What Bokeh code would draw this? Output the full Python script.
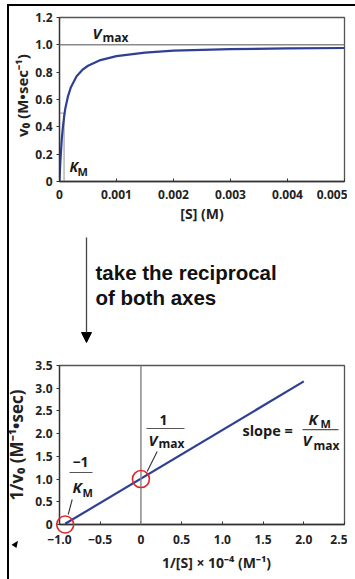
from bokeh.plotting import figure
from bokeh.layouts import column
from bokeh.models import Range1d, FixedTicker, Label, Arrow, NormalHead, Span, Div
from bokeh.embed import file_html
from bokeh.resources import INLINE

# ---------------- data ----------------
# Michaelis-Menten plot
s_conc = [0, 0.00001, 0.00002, 0.00004, 0.00006, 0.00008, 0.0001, 0.00015, 0.0002,
          0.0003, 0.0004, 0.0005, 0.0007, 0.001, 0.0015, 0.002, 0.003, 0.004, 0.005]
v0 = [0, 0.10, 0.18, 0.31, 0.40, 0.47, 0.53, 0.625, 0.69,
      0.77, 0.816, 0.847, 0.886, 0.917, 0.943, 0.957, 0.968, 0.974, 0.977]
vmax = 1.0
km = 0.00008
half_v = 0.5
top_xticks = [0, 0.001, 0.002, 0.003, 0.004, 0.005]
top_xlabels = ["0", "0.001", "0.002", "0.003", "0.004", "0.005"]
top_yticks = [0, 0.2, 0.4, 0.6, 0.8, 1.0, 1.2]
top_ylabels = ["0", "0.2", "0.4", "0.6", "0.8", "1.0", "1.2"]

# Lineweaver-Burk plot
inv_s = [-0.93, 2.0]
inv_v = [0.015, 3.15]
intercept_x = [-0.93, 0.0]
intercept_y = [0.0, 1.0]
bot_xticks = [-1.0, -0.5, 0, 0.5, 1.0, 1.5, 2.0, 2.5]
bot_xlabels = ["\u22121.0", "\u22120.5", "0", "0.5", "1.0", "1.5", "2.0", "2.5"]
bot_yticks = [0, 0.5, 1.0, 1.5, 2.0, 2.5, 3.0, 3.5]
bot_ylabels = ["0", "0.5", "1.0", "1.5", "2.0", "2.5", "3.0", "3.5"]

FONT = "Open Sans"
BLUE = "#2e3f94"
RED = "#e0262b"
GRAY = "#8a8a8a"
DARK = "#333333"
NB = "\u00a0"


def style_axes(p, xt, xl, yt, yl):
    p.xgrid.visible = False
    p.ygrid.visible = False
    p.outline_line_color = "#555555"
    p.outline_line_width = 1.3
    p.xaxis.ticker = FixedTicker(ticks=xt)
    p.yaxis.ticker = FixedTicker(ticks=yt)
    p.xaxis.major_label_overrides = {t: l for t, l in zip(xt, xl)}
    p.yaxis.major_label_overrides = {t: l for t, l in zip(yt, yl)}
    p.xaxis.major_tick_in = 3
    p.xaxis.major_tick_out = 0
    p.yaxis.major_tick_in = 0
    p.yaxis.major_tick_out = 3
    for ax in (p.xaxis, p.yaxis):
        ax.axis_line_color = DARK
        ax.axis_line_width = 1.3
        ax.major_tick_line_color = DARK
        ax.minor_tick_line_color = None
        ax.major_label_text_font = FONT
        ax.major_label_text_font_style = "bold"
        ax.major_label_text_font_size = "12px"
        ax.major_label_text_color = "#222222"
        ax.axis_label_text_font = FONT
        ax.axis_label_text_font_style = "bold"
        ax.axis_label_text_color = "#222222"


def lab(p, x, y, text, size, italic=False, align="left"):
    p.add_layout(Label(x=x, y=y, text=text, text_font=FONT,
                       text_font_style="bold italic" if italic else "bold",
                       text_font_size=size, text_color="#1a1a1a",
                       text_align=align, text_baseline="middle"))


# ---------------- top figure ----------------
top = figure(width=347, height=231, x_range=Range1d(0, 0.005), y_range=Range1d(0, 1.2),
             output_backend="svg", toolbar_location=None,
             min_border_left=59, min_border_right=3, min_border_top=17, min_border_bottom=50)
style_axes(top, top_xticks, top_xlabels, top_yticks, top_ylabels)
top.xaxis.axis_label = "[S] (M)"
top.xaxis.axis_label_text_font_size = "14px"
top.xaxis.major_label_standoff = 8
top.xaxis.axis_label_standoff = 2
top.yaxis.axis_label = NB * 2 + "v\u2080 (M\u2022sec\u207b\u00b9)"
top.yaxis.axis_label_text_font_size = "15px"
top.yaxis.major_label_standoff = 4
top.yaxis.axis_label_standoff = 0

top.add_layout(Span(location=vmax, dimension="width", line_color=GRAY, line_width=1.5))
top.line([km, km], [0, half_v], line_color="#aaaaaa", line_width=1.3)
top.line([0, km], [half_v, half_v], line_color="#aaaaaa", line_width=1.3)
top.line(s_conc, v0, line_color=BLUE, line_width=2.2)

lab(top, 0.000579, 1.083, "V", "15px", italic=True)
lab(top, 0.000754, 1.054, "max", "12px")
lab(top, 0.000175, 0.11, "K", "14px", italic=True)
lab(top, 0.000316, 0.073, "M", "11px")

# ---------------- middle (arrow + text) ----------------
mid = figure(width=347, height=126, x_range=Range1d(59, 344), y_range=Range1d(357, 231),
             output_backend="svg", toolbar_location=None,
             x_axis_location=None, y_axis_location=None,
             min_border_left=59, min_border_right=3, min_border_top=0, min_border_bottom=0)
mid.grid.visible = False
mid.outline_line_color = None
mid.add_layout(Arrow(x_start=86, y_start=237, x_end=86, y_end=342,
                     line_color="#444444", line_width=1.3,
                     end=NormalHead(size=10, fill_color="black", line_color="black")))
for txt, yy in (("take the reciprocal", 272), ("of both axes", 297)):
    mid.add_layout(Label(x=95, y=yy, text=txt, text_font="Liberation Sans",
                         text_font_style="bold", text_font_size="20.5px",
                         text_color="#111111", text_baseline="middle"))

# ---------------- bottom figure ----------------
bot = figure(width=347, height=220, x_range=Range1d(-1.0, 2.5), y_range=Range1d(0, 3.5),
             output_backend="svg", toolbar_location=None,
             min_border_left=59, min_border_right=3, min_border_top=8, min_border_bottom=53)
style_axes(bot, bot_xticks, bot_xlabels, bot_yticks, bot_ylabels)
bot.xaxis.axis_label = NB * 8 + "1/[S] \u00d7 10\u207b\u2074 (M\u207b\u00b9)"
bot.xaxis.axis_label_text_font_size = "14px"
bot.xaxis.major_label_standoff = 10
bot.xaxis.axis_label_standoff = 6
bot.yaxis.axis_label = "1/v\u2080 (M\u207b\u00b9\u2022sec)"
bot.yaxis.axis_label_text_font_size = "17px"
bot.yaxis.major_label_standoff = 4
bot.yaxis.axis_label_standoff = 4

bot.add_layout(Span(location=0, dimension="height", line_color=GRAY, line_width=1.5))
bot.line(inv_s, inv_v, line_color=BLUE, line_width=2.2)
bot.scatter(intercept_x, intercept_y, marker="circle", size=17, fill_color=None,
            line_color=RED, line_width=1.6, level="overlay")

# -1/KM
lab(bot, -0.742, 1.365, "\u22121", "14px", align="center")
bot.line([-0.877, -0.595], [1.145, 1.145], line_color="#555555", line_width=1.2)
lab(bot, -0.84, 0.815, "K", "15px", italic=True)
lab(bot, -0.718, 0.70, "M", "11px")
bot.line([-0.844, -0.893], [0.55, 0.22], line_color="#333333", line_width=1.1)

# 1/Vmax
lab(bot, 0.277, 2.29, "1", "14px", align="center")
bot.line([0.068, 0.535], [2.113, 2.113], line_color="#555555", line_width=1.2)
lab(bot, 0.093, 1.85, "V", "15px", italic=True)
lab(bot, 0.216, 1.78, "max", "12px")
bot.line([0.2, 0.077], [1.607, 1.167], line_color="#333333", line_width=1.1)

# slope = KM / Vmax
lab(bot, 1.247, 2.07, "slope =", "14.5px")
bot.line([1.984, 2.426], [2.09, 2.09], line_color="#555555", line_width=1.2)
lab(bot, 2.058, 2.333, "K", "15px", italic=True)
lab(bot, 2.205, 2.22, "M", "11px")
lab(bot, 1.984, 1.85, "V", "15px", italic=True)
lab(bot, 2.12, 1.74, "max", "12px")

# page frame lines (decoration of the original figure panel)
frame_html = (
    '<div style="position:fixed;left:7px;top:4px;width:348px;height:2px;background:#000"></div>'
    '<div style="position:fixed;left:7px;top:4px;width:2px;height:575px;background:#000"></div>'
    '<div style="position:fixed;left:13px;top:540px;width:0;height:0;'
    'border-left:3px solid transparent;border-right:3px solid transparent;'
    'border-bottom:7px solid #000;transform:rotate(35deg)"></div>'
)
deco = Div(text=frame_html, width=1, height=1)

layout = column(top, mid, bot, deco, spacing=0)

open("out.html", "w").write(file_html(layout, INLINE))
